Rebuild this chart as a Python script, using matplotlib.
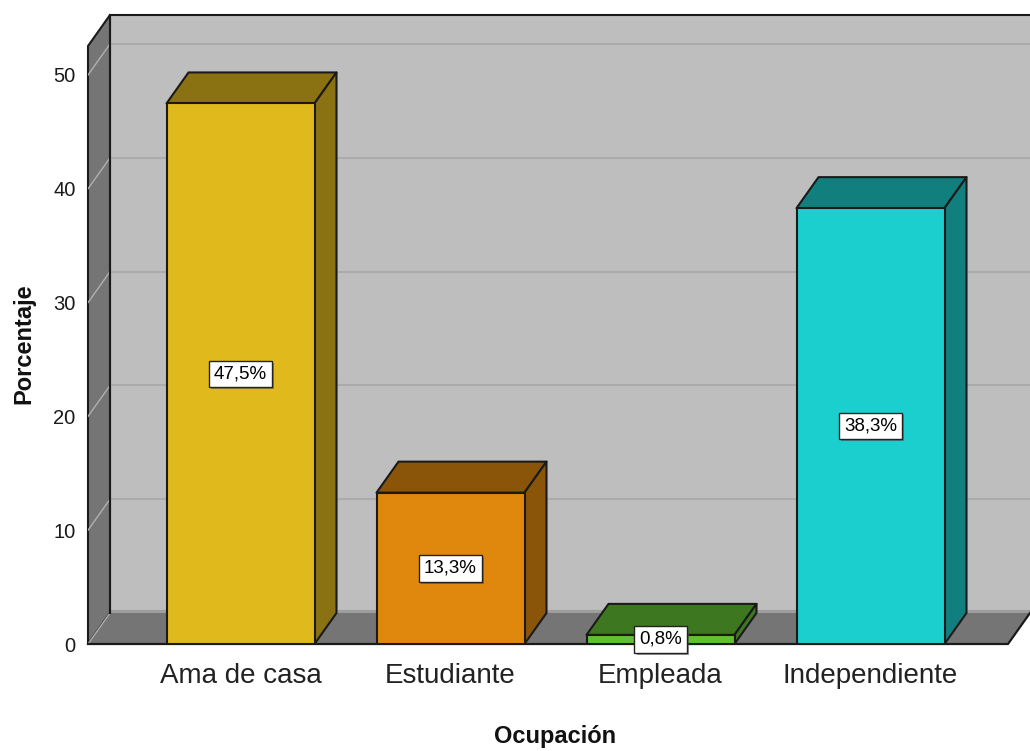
import matplotlib
matplotlib.use("Agg")
import matplotlib.pyplot as plt
from matplotlib.patches import Polygon
import matplotlib.patheffects as pe

plt.rcParams['font.family'] = ['Liberation Sans Narrow', 'Liberation Sans', 'DejaVu Sans']

categorias = ["Ama de casa", "Estudiante", "Empleada", "Independiente"]
porcentajes = [47.5, 13.3, 0.8, 38.3]
etiquetas = ["47,5%", "13,3%", "0,8%", "38,3%"]
ticks_y = [0, 10, 20, 30, 40, 50]

# colores: frente, lado/arriba
frente = ["#e0b91c", "#e0880e", "#5cc232", "#1ccfcf"]
lado = ["#8a7212", "#8a5509", "#3d7820", "#127f7f"]

W, H = 1030, 751
paso_x = 210.0   # px por categoria
paso_y = 11.38   # px por unidad de porcentaje
dx = 22 / paso_x
dy = 31 / paso_y
ancho = 148 / paso_x

fig = plt.figure(figsize=(W / 100, H / 100), dpi=100, facecolor="white")
ax = fig.add_axes([88 / W, (H - 644) / H, (1030 - 88) / W, (644 - 15) / H])
x0 = (88 - 240.5) / paso_x
x1 = (1030 - 240.5) / paso_x
ytop = (644 - 15) / paso_y
ax.set_xlim(x0, x1)
ax.set_ylim(0, ytop)
ax.axis("on")
ax.patch.set_alpha(0)
for s in ax.spines.values():
    s.set_visible(False)

negro = "#1a1a1a"
ymax = ytop - dy
xfin = x1 - dx

# pared de fondo
ax.add_patch(Polygon([(x0 + dx, dy), (x1, dy), (x1, ytop), (x0 + dx, ytop)],
                     fc="#bebebe", ec="none", zorder=1))
# franja clara al fondo del piso
ax.plot([x0 + dx, x1], [dy + 0.1, dy + 0.1], color="#9e9e9e", lw=3, zorder=2, clip_on=False)
# pared izquierda
ax.add_patch(Polygon([(x0, 0), (x0 + dx, dy), (x0 + dx, ytop), (x0, ymax)],
                     fc="#757575", ec=negro, lw=1.5, zorder=2, clip_on=False))
# piso
ax.add_patch(Polygon([(x0, 0), (xfin, 0), (x1, dy), (x0 + dx, dy)],
                     fc="#757575", ec="none", zorder=2, clip_on=False))
ax.plot([x0, xfin, x1], [0, 0, dy], color=negro, lw=1.6, zorder=3, clip_on=False)
ax.plot([x0 + dx, x1], [ytop, ytop], color=negro, lw=1.5, zorder=3, clip_on=False)
ax.plot([x0 + dx, x0 + dx], [dy, ytop], color=negro, lw=1.5, zorder=3, clip_on=False)

# lineas de grilla
for t in ticks_y:
    if t > 0:
        ax.plot([x0 + dx, x1], [t + dy, t + dy], color="#ababab", lw=1.5, zorder=2)
    ax.plot([x0, x0 + dx], [t, t + dy], color="#b0b0b0", lw=1, zorder=2.5)

# barras
for i, v in enumerate(porcentajes):
    a = i - ancho / 2
    b = i + ancho / 2
    ax.add_patch(Polygon([(a, v), (b, v), (b + dx, v + dy), (a + dx, v + dy)],
                         fc=lado[i], ec=negro, lw=1.5, joinstyle="round", zorder=5))
    ax.add_patch(Polygon([(b, 0), (b + dx, dy), (b + dx, v + dy), (b, v)],
                         fc=lado[i], ec=negro, lw=1.5, joinstyle="round", zorder=5))
    ax.add_patch(Polygon([(a, 0), (b, 0), (b, v), (a, v)],
                         fc=frente[i], ec=negro, lw=1.5, joinstyle="round", zorder=6))
    t = ax.text(i, v / 2, etiquetas[i], ha="center", va="center", fontsize=13.5, color="black",
                zorder=8, clip_on=False,
                bbox=dict(boxstyle="square,pad=0.25", fc="white", ec="#222222", lw=1.0))
    t.get_bbox_patch().set_path_effects([
        pe.SimplePatchShadow(offset=(1.5, -1.5), shadow_rgbFace="#555555", alpha=0.6),
        pe.Normal()])

ax.set_yticks(ticks_y)
ax.set_yticklabels([str(t) for t in ticks_y], fontsize=14.5, color="#1a1a1a")
ax.set_xticks(range(len(categorias)))
ax.set_xticklabels(categorias, fontsize=20, color="#222222")
ax.tick_params(axis="both", length=0)
ax.tick_params(axis="y", pad=9)
ax.tick_params(axis="x", pad=14)

fig.text(24 / W, 1 - 344 / H, "Porcentaje", rotation=90, ha="center", va="center",
         fontsize=17, fontweight="bold", family=["Liberation Sans", "DejaVu Sans"], color="#111111")
fig.text(555 / W, 1 - 736 / H, "Ocupación", ha="center", va="center",
         fontsize=17, fontweight="bold", family=["Liberation Sans", "DejaVu Sans"], color="#111111")

fig.savefig("out.png", dpi=100, facecolor="white")
